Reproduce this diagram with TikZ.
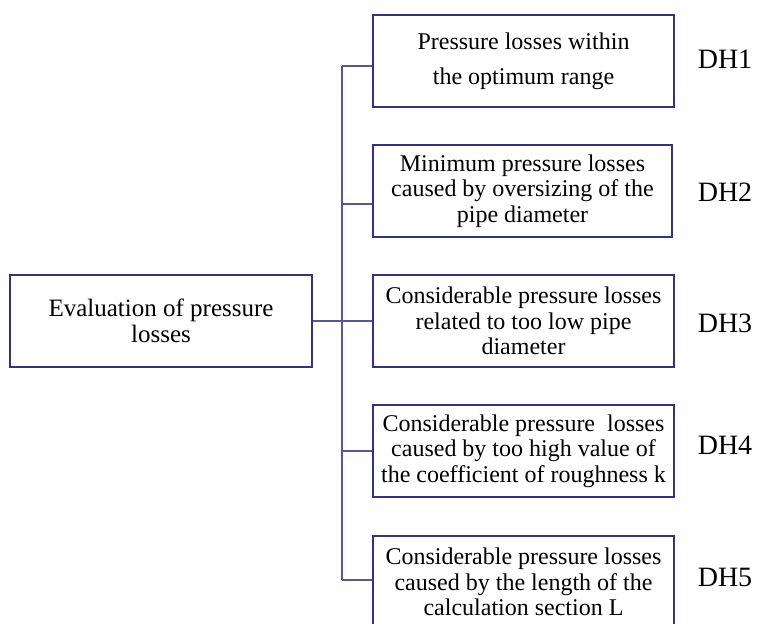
\documentclass[tikz,border=0pt]{standalone}
\usepackage{fontspec}
\setmainfont{Liberation Serif}
\definecolor{boxc}{RGB}{50,50,135}
\definecolor{linec}{RGB}{85,85,160}
\begin{document}
\begin{tikzpicture}[x=1pt,y=-1pt,
  box/.style={draw=boxc, line width=1.8pt, minimum height=92pt, minimum width=301pt, inner sep=0pt, align=center, font=\fontsize{24}{25.5}\selectfont},
  dh/.style={font=\fontsize{28}{30}\selectfont, inner sep=0pt},
  conn/.style={draw=linec, line width=1.1pt}]
\useasboundingbox (0,0) rectangle (759,623);
\clip (0,0) rectangle (759,623);
\fill[white] (0,0) rectangle (759,623);
% nodes
\node[box, minimum width=302pt, font=\fontsize{25}{25.5}\selectfont] (root) at (161,321) {Evaluation of pressure\\losses};
\node[box, font=\fontsize{24}{35}\selectfont] (b1) at (523.5,61) {Pressure losses within\\the optimum range};
\node[box, minimum width=299pt] (b2) at (522.5,191) {Minimum pressure losses\\caused by oversizing of the\\pipe diameter};
\node[box] (b3) at (523.5,321) {Considerable pressure losses\\related to too low pipe\\diameter};
\node[box] (b4) at (523.5,451) {Considerable pressure\ \ losses\\caused by too high value of\\the coefficient of roughness k};
\node[box] (b5) at (523.5,582) {Considerable pressure losses\\caused by the length of the\\calculation section L};
% labels
\node[dh] (dh1) at (725,59) {DH1};
\node[dh] (dh2) at (725,192) {DH2};
\node[dh] (dh3) at (725,323) {DH3};
\node[dh] (dh4) at (725,445) {DH4};
\node[dh] (dh5) at (725,577) {DH5};
% connectors
\coordinate (tTop) at (342,66);
\coordinate (tBot) at (342,580);
\coordinate (c2) at (342,204);
\draw[conn] (tTop) -- (tBot);
\draw[conn] (root.east) -- (b3.west);
\draw[conn] (tTop) -- (tTop -| b1.west);
\draw[conn] (c2) -- (c2 -| b2.west);
\draw[conn] (b4.west) -- (b4.west -| tTop);
\draw[conn] (tBot) -- (tBot -| b5.west);
\end{tikzpicture}
\end{document}
